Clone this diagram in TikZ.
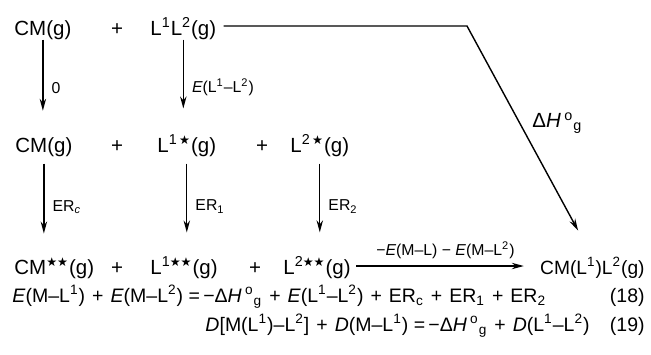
\documentclass[tikz,border=0pt]{standalone}
\usepackage{fontspec}
\usepackage{graphicx}
\setmainfont{Liberation Sans}
\newfontfamily\starfont{DejaVu Sans}
\usetikzlibrary{arrows.meta}

\newcommand{\st}{{\starfont\scalebox{0.85}{★}}}
\newcommand{\sps}[1]{\textsuperscript{#1}}
\newcommand{\sbs}[1]{\textsubscript{#1}}
\newcommand{\dHg}{Δ\textit{H}\,\sps{o}\sbs{g}}
\newcommand{\pl}{\hspace{0.36em}+\hspace{0.36em}}

\begin{document}
\begin{tikzpicture}[
        x=0.5pt,
        y=-0.5pt,
        species/.style={
            inner sep=0pt,
            font=\fontsize{10.25}{12}\selectfont
        },
        eqn/.style={
            inner sep=0pt,
            font=\fontsize{9.75}{12}\selectfont
        },
        lab/.style={
            inner sep=0pt,
            font=\fontsize{7.9}{9}\selectfont
        },
        rxn/.style={
            line width=0.7pt,
            -{Stealth[length=6pt,width=3.2pt]}
        }
    ]

    \useasboundingbox (0,0) rectangle (651,354);

    % first row
    \node[species, anchor=base west] (cmA) at (14,35) {CM(g)};
    \node[species, anchor=base] (plA) at (117,35) {+};
    \node[species, anchor=base west] (llA) at (150,35) {L\sps{1}L\sps{2}(g)};
    \coordinate (bend) at (467,26);

    % second row
    \node[species, anchor=base west] (cmB) at (15,152) {CM(g)};
    \node[species, anchor=base] (plB) at (117,152) {+};
    \node[species, anchor=base west] (lB1) at (157,152) {L\sps{1\,\st}(g)};
    \node[species, anchor=base] (plC) at (262,152) {+};
    \node[species, anchor=base west] (lB2) at (290,152) {L\sps{2\,\st}(g)};

    % third row
    \node[species, anchor=base west] (cmC) at (14,274) {CM\sps{\st\st}(g)};
    \node[species, anchor=base] (plD) at (117,274) {+};
    \node[species, anchor=base west] (lC1) at (150,274) {L\sps{1\st\st}(g)};
    \node[species, anchor=base] (plE) at (255,274) {+};
    \node[species, anchor=base west] (lC2) at (283,274) {L\sps{2\st\st}(g)};
    \node[species, anchor=base east, font=\fontsize{9.6}{12}\selectfont] (prod) at (645,274)
        {CM(L\sps{1})L\sps{2}(g)};

    \draw[rxn, shorten >=13pt] (cmA.south) -- (cmA.south |- cmB.north)
        node[lab, midway, right=4pt] {0};
    \draw[rxn, shorten >=13pt] (llA.south) -- (llA.south |- lB1.north)
        node[lab, midway, right=4pt] {\textit{E}(L\sps{1}–L\sps{2})};

    \draw[rxn, shorten <=3.5pt, shorten >=12pt] (cmB.south) -- (cmB.south |- cmC.north)
        node[lab, midway, right=4pt] {ER\sbs{\textit{c}}};
    \draw[rxn, shorten <=3.5pt, shorten >=12pt] (lB1.south) -- (lB1.south |- lC1.north)
        node[lab, midway, right=4pt] {ER\sbs{1}};
    \draw[rxn, shorten <=3.5pt, shorten >=12pt] (lB2.south) -- (lB2.south |- lC2.north)
        node[lab, midway, right=4pt] {ER\sbs{2}};

    \draw[rxn, shorten <=2.5pt, shorten >=8pt]
        ([yshift=4pt]lC2.base east) -- ([yshift=4pt]prod.base west)
        node[lab, midway, above=3.5pt] {−\textit{E}(M–L) − \textit{E}(M–L\sps{2})};

    \draw[rxn, shorten <=3.5pt, shorten >=15pt] (llA.east |- bend) -- (bend)
        -- node[species, pos=0.42, right=6pt] {\dHg} (prod.north);

    % cycle equations
    \node[eqn, anchor=base west] (eqA) at (12,302)
        {\textit{E}(M–L\sps{1})\pl\textit{E}(M–L\sps{2}) =\,−\dHg\pl\textit{E}(L\sps{1}–L\sps{2})\pl ER\sbs{c}\pl ER\sbs{1}\pl ER\sbs{2}};
    \node[eqn, anchor=base east] (tagA) at (645,302) {(18)};

    \node[eqn, anchor=base east] (eqB) at (590,331)
        {\textit{D}[M(L\sps{1})–L\sps{2}]\pl\textit{D}(M–L\sps{1}) =\,−\dHg\pl\textit{D}(L\sps{1}–L\sps{2})};
    \node[eqn, anchor=base east] (tagB) at (645,331) {(19)};

\end{tikzpicture}
\end{document}
